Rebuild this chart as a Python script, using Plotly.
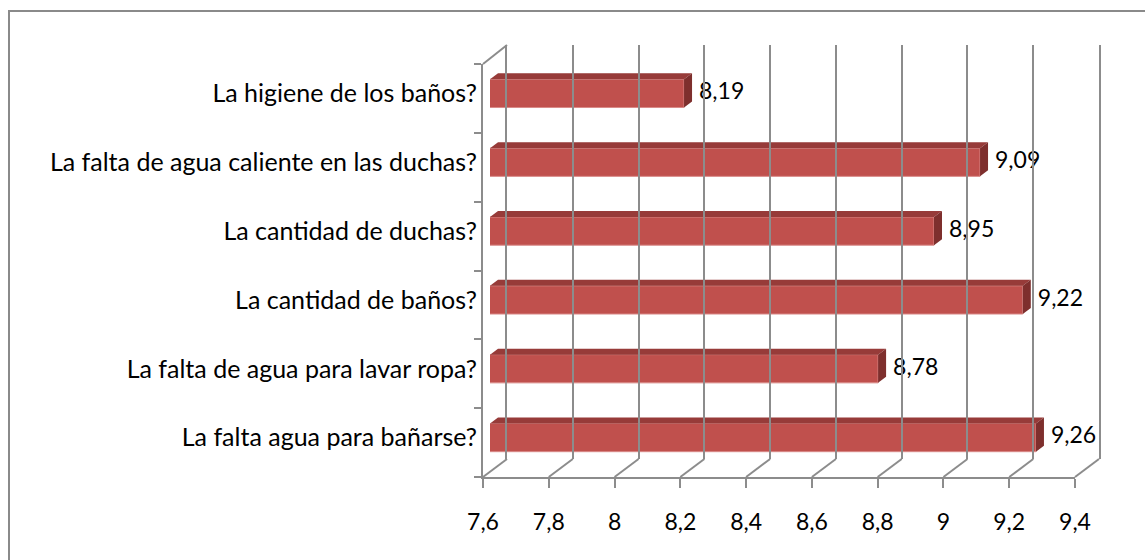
import plotly.graph_objects as go

# ---- data ----
categories = [
    "La higiene de los baños?",
    "La falta de agua caliente en las duchas?",
    "La cantidad de duchas?",
    "La cantidad de baños?",
    "La falta de agua para lavar ropa?",
    "La falta agua para bañarse?",
]
values = [8.19, 9.09, 8.95, 9.22, 8.78, 9.26]
x_ticks = [7.6, 7.8, 8.0, 8.2, 8.4, 8.6, 8.8, 9.0, 9.2, 9.4]
x_min, x_max = 7.6, 9.4

# ---- geometry (pixels) ----
W, H = 1145, 560
FX0, FX1, FY0, FY1 = 483, 1075, 64, 477   # front plane
DX, DY = 24, 18                            # depth offset to back wall
BX, BY = 7, 5                              # bar plane offset
TOPX, TOPY = 8, 6                          # bar top-face depth
LABEL_GAP = 7
BAR_W = 0.41
FONT = "Lato"
FS_CAT = 25
FS_NUM = 23
GRID = "#8C8C8C"
FRONT = "#C0504D"
TOP = "#973B39"
SIDE = "#7E2F2D"


def fx(p):
    return p / W


def fy(p):
    return 1 - p / H


n = len(categories)
pos = list(range(n))
ppu_x = (FX1 - FX0) / (x_max - x_min)
ppu_y = (FY1 - FY0) / n
ddx = TOPX / ppu_x
ddy = TOPY / ppu_y
gap = LABEL_GAP / ppu_x

fig = go.Figure()

# back wall (subplot 2)
fig.add_trace(go.Scatter(x=[x_min], y=[0], mode="markers", marker=dict(opacity=0),
                         xaxis="x2", yaxis="y2", showlegend=False, hoverinfo="skip"))
# front plane axes (subplot 3)
fig.add_trace(go.Scatter(x=[x_min], y=[0], mode="markers", marker=dict(opacity=0),
                         xaxis="x3", yaxis="y3", showlegend=False, hoverinfo="skip"))

# bars (front faces)
fig.add_trace(go.Bar(y=pos, x=values, orientation="h", width=BAR_W,
                     marker=dict(color=FRONT, line=dict(color="#D98A88", width=1)),
                     xaxis="x", yaxis="y", showlegend=False))

# top faces and side faces
tx, ty, sx, sy = [], [], [], []
for p, v in zip(pos, values):
    yt = p - BAR_W / 2  # reversed axis: top edge is smaller value
    tx += [x_min, v, v + ddx, x_min + ddx, x_min, None]
    ty += [yt, yt, yt - ddy, yt - ddy, yt, None]
    yb = p + BAR_W / 2
    sx += [v, v, v + ddx, v + ddx, v, None]
    sy += [yt, yb, yb - ddy, yt - ddy, yt, None]
fig.add_trace(go.Scatter(x=tx, y=ty, fill="toself", fillcolor=TOP, mode="lines",
                         line=dict(width=0, color=TOP), showlegend=False, hoverinfo="skip",
                         xaxis="x", yaxis="y"))
fig.add_trace(go.Scatter(x=sx, y=sy, fill="toself", fillcolor=SIDE, mode="lines",
                         line=dict(width=0, color=SIDE), showlegend=False, hoverinfo="skip",
                         xaxis="x", yaxis="y"))

# data labels
fig.add_trace(go.Scatter(x=[v + ddx + gap for v in values], y=pos, mode="text",
                         text=[f"{v:.2f}".replace(".", ",") for v in values],
                         textposition="middle right", cliponaxis=False,
                         textfont=dict(family=FONT, size=FS_NUM, color="black"),
                         showlegend=False, hoverinfo="skip", xaxis="x", yaxis="y"))

# frame diagonals (floor + top-left corner)
shapes = []
for t in x_ticks:
    px0 = FX0 + (t - x_min) * ppu_x
    shapes.append(dict(type="line", xref="paper", yref="paper",
                       x0=fx(px0), y0=fy(FY1), x1=fx(px0 + DX), y1=fy(FY1 - DY),
                       line=dict(color=GRID, width=2)))
shapes.append(dict(type="line", xref="paper", yref="paper",
                   x0=fx(FX0), y0=fy(FY0), x1=fx(FX0 + DX), y1=fy(FY0 - DY - 1),
                   line=dict(color=GRID, width=2)))
# outer chart border
shapes.append(dict(type="rect", xref="paper", yref="paper",
                   x0=fx(9), y0=-0.2, x1=1.2, y1=fy(11),
                   line=dict(color="#8A8A8A", width=2)))

fig.update_layout(
    template="none",
    width=W, height=H, autosize=False,
    margin=dict(l=0, r=0, t=0, b=0, pad=0),
    paper_bgcolor="white", plot_bgcolor="rgba(0,0,0,0)",
    separators=",.",
    showlegend=False,
    font=dict(family=FONT, size=FS_NUM, color="black"),
    shapes=shapes,
    xaxis=dict(domain=[fx(FX0 + BX), fx(FX1 + BX)], range=[x_min, x_max],
               showgrid=False, showticklabels=False, zeroline=False, showline=False,
               ticks="", automargin=False),
    yaxis=dict(domain=[fy(FY1 - BY), fy(FY0 - BY)], range=[n - 0.5, -0.5],
               tickvals=pos, ticktext=categories, ticks="", showgrid=False,
               zeroline=False, showline=False, ticklabelstandoff=12, automargin=False,
               tickfont=dict(family=FONT, size=FS_CAT, color="black")),
    xaxis2=dict(domain=[fx(FX0 + DX), fx(FX1 + DX)], range=[x_min, x_max],
                tickvals=x_ticks, showgrid=True, gridcolor=GRID, gridwidth=2,
                showticklabels=False, zeroline=False, showline=False, ticks="",
                anchor="y2", automargin=False),
    yaxis2=dict(domain=[fy(FY1 - DY), fy(FY0 - DY - 1)], range=[0, 1],
                showgrid=False, showticklabels=False, zeroline=False, ticks="",
                showline=True, mirror=True, linecolor=GRID, linewidth=2,
                anchor="x2", automargin=False),
    xaxis3=dict(domain=[fx(FX0), fx(FX1)], range=[x_min, x_max], tickvals=x_ticks,
                ticktext=[f"{t:g}".replace(".", ",") for t in x_ticks],
                ticks="outside", ticklen=9, tickwidth=2, tickcolor=GRID,
                showline=True, linecolor=GRID, linewidth=2, showgrid=False,
                zeroline=False, ticklabelstandoff=14, anchor="y3", automargin=False,
                tickfont=dict(family=FONT, size=FS_NUM, color="black")),
    yaxis3=dict(domain=[fy(FY1), fy(FY0)], range=[n - 0.5, -0.5],
                tickvals=[i - 0.5 for i in range(n + 1)], ticks="outside", ticklen=7,
                tickwidth=2, tickcolor=GRID, showline=True, linecolor=GRID, linewidth=2,
                showticklabels=False, showgrid=False, zeroline=False, anchor="x3",
                automargin=False),
)

fig.write_html("out.html", post_script="document.body.style.margin='0';",
               config={"displayModeBar": False, "responsive": False})
